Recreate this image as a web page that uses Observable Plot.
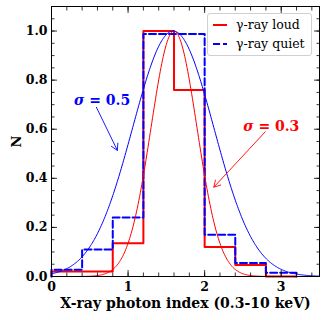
<!DOCTYPE html>
<html><head><meta charset="utf-8">
<script src="https://cdn.jsdelivr.net/npm/d3@7"></script>
<script src="https://cdn.jsdelivr.net/npm/@observablehq/plot@0.6"></script>
<style>
body{margin:0;background:#fff}
#chart{position:relative;width:326px;height:320px}
#legend{position:absolute;left:207px;top:13px;width:105px;height:43px;box-sizing:border-box;border:1px solid #d0d0d0;border-radius:3px;background:rgba(255,255,255,0.85);font-family:"DejaVu Serif",serif;font-size:12.5px;color:#000}
#legend .row{position:absolute;left:5px;height:17px;display:flex;align-items:center;white-space:nowrap}
#legend svg{margin-right:9px;flex:none}
</style>
</head><body><div id="chart"></div>
<script>
// Histogram bins (X-ray photon index) and normalised counts
const binEdges = [0, 0.4, 0.8, 1.2, 1.6, 2.0, 2.4, 2.8, 3.2];
const loudValues = [0.02, 0.02, 0.135, 1.0, 0.76, 0.12, 0.047, 0];
const quietValues = [0.028, 0.11, 0.24, 0.988, 0.988, 0.17, 0.055, 0.015];
// Gaussian model curves (peak-normalised)
const curveNames = ["loud", "quiet"];
const curveMu = [1.6, 1.59];
const curveSigma = [0.3, 0.53];
const curveColors = ["#ff0000", "#0000ff"];
// annotations
const noteLabels = ["σ = 0.5", "σ = 0.3"];
const noteX = [0.66, 2.87];
const noteY = [0.718, 0.613];
const noteColors = ["#0000ff", "#ff0000"];
const arrowX1 = [0.587, 2.79];
const arrowY1 = [0.689, 0.589];
const arrowX2 = [0.86, 2.12];
const arrowY2 = [0.514, 0.364];
// ticks
const xTicks = [0, 1, 2, 3];
const xMinor = d3.range(0, 3.5001, 0.2).map(v => +v.toFixed(2));
const yTicks = [0, 0.2, 0.4, 0.6, 0.8, 1.0];
const yMinor = d3.range(0, 1.1001, 0.05).map(v => +v.toFixed(2));
const legendLabels = ["γ-ray loud", "γ-ray quiet"];

function stepData(vals) {
  const pts = [{x: binEdges[0], y: 0}];
  vals.forEach((v, i) => pts.push({x: binEdges[i], y: v}));
  const last = binEdges[binEdges.length - 1];
  pts.push({x: last, y: vals[vals.length - 1]});
  pts.push({x: last, y: 0});
  return pts;
}
const loudStep = stepData(loudValues);
const quietStep = stepData(quietValues);
const xs = d3.range(0, 3.5001, 0.01);
const curves = curveNames.map((n, i) => xs.map(x => ({x, y: Math.exp(-((x - curveMu[i]) ** 2) / (2 * curveSigma[i] ** 2))})));
const notes = noteLabels.map((t, i) => ({t, x: noteX[i], y: noteY[i], c: noteColors[i]}));
const arrows = noteLabels.map((t, i) => ({x1: arrowX1[i], y1: arrowY1[i], x2: arrowX2[i], y2: arrowY2[i], c: noteColors[i]}));

const font = "DejaVu Serif";
const tickOpts = {fill: "none", stroke: "black", strokeWidth: 0.8};
const plot = Plot.plot({
  width: 326, height: 320,
  marginLeft: 51, marginRight: 7, marginTop: 6, marginBottom: 44,
  style: {fontFamily: font, background: "white", color: "black"},
  x: {domain: [0, 3.5]},
  y: {domain: [0, 1.1]},
  marks: [
    Plot.line(loudStep, {x: "x", y: "y", curve: "step-after", stroke: "#ff0000", strokeWidth: 2}),
    Plot.line(quietStep, {x: "x", y: "y", curve: "step-after", stroke: "#0000ff", strokeWidth: 2, strokeDasharray: "7,3"}),
    Plot.line(curves[0], {x: "x", y: "y", stroke: curveColors[0], strokeWidth: 1}),
    Plot.line(curves[1], {x: "x", y: "y", stroke: curveColors[1], strokeWidth: 1}),
    Plot.arrow(arrows, {x1: "x1", y1: "y1", x2: "x2", y2: "y2", stroke: "c", strokeWidth: 0.9, headLength: 12, bend: 0}),
    Plot.text(notes, {x: "x", y: "y", text: "t", fill: "c", fontSize: 14, fontWeight: "bold", fontFamily: font}),
    Plot.frame({stroke: "black", strokeWidth: 1}),
    Plot.axisX(xMinor, {...tickOpts, anchor: "bottom", tickSize: -3.5}),
    Plot.axisX(xTicks, {...tickOpts, anchor: "bottom", tickSize: -6}),
    Plot.axisX(xMinor, {...tickOpts, anchor: "top", tickSize: -3.5}),
    Plot.axisX(xTicks, {...tickOpts, anchor: "top", tickSize: -6}),
    Plot.axisY(yMinor, {...tickOpts, anchor: "left", tickSize: -3.5}),
    Plot.axisY(yTicks, {...tickOpts, anchor: "left", tickSize: -6}),
    Plot.axisY(yMinor, {...tickOpts, anchor: "right", tickSize: -3.5}),
    Plot.axisY(yTicks, {...tickOpts, anchor: "right", tickSize: -6}),
    Plot.axisX(xTicks, {anchor: "bottom", tickSize: 0, tickPadding: 6, fontSize: 12.5, fontWeight: "bold", tickFormat: d => String(d),
      label: "X-ray photon index (0.3-10 keV)", labelAnchor: "center", labelOffset: 31, labelArrow: "none"}),
    Plot.axisY(yTicks, {anchor: "left", tickSize: 0, tickPadding: 4, fontSize: 12.5, fontWeight: "bold", tickFormat: d3.format(".1f"),
      label: "N", labelAnchor: "center", labelOffset: 40, labelArrow: "none"})
  ]
});
const chart = document.getElementById("chart");
chart.appendChild(plot);
// italic sigma in annotations
plot.querySelectorAll('g[aria-label="text"] text').forEach(t => {
  const s = t.textContent;
  if (s.startsWith("σ")) {
    t.textContent = "";
    const a = document.createElementNS("http://www.w3.org/2000/svg", "tspan");
    a.setAttribute("font-style", "italic"); a.textContent = "σ";
    t.appendChild(a);
    t.appendChild(document.createTextNode(s.slice(1)));
  }
});
plot.querySelectorAll('g[aria-label="x-axis label"] text').forEach(t => {
  t.setAttribute("font-size", "14"); t.setAttribute("font-weight", "bold");
});
plot.querySelectorAll('g[aria-label="y-axis label"] text').forEach(t => {
  t.setAttribute("font-size", "13"); t.setAttribute("font-weight", "bold");
});
// legend
const legend = document.createElement("div");
legend.id = "legend";
legendLabels.forEach((lab, i) => {
  const row = document.createElement("div");
  row.className = "row";
  row.style.top = (i === 0 ? 2 : 21) + "px";
  const dash = i === 0 ? "" : ' stroke-dasharray="7,3"';
  row.innerHTML = `<svg width="14" height="4"><line x1="0" y1="2" x2="14" y2="2" stroke="${curveColors[i]}" stroke-width="2"${dash}/></svg><span>${lab}</span>`;
  legend.appendChild(row);
});
chart.appendChild(legend);
</script>
</body></html>
